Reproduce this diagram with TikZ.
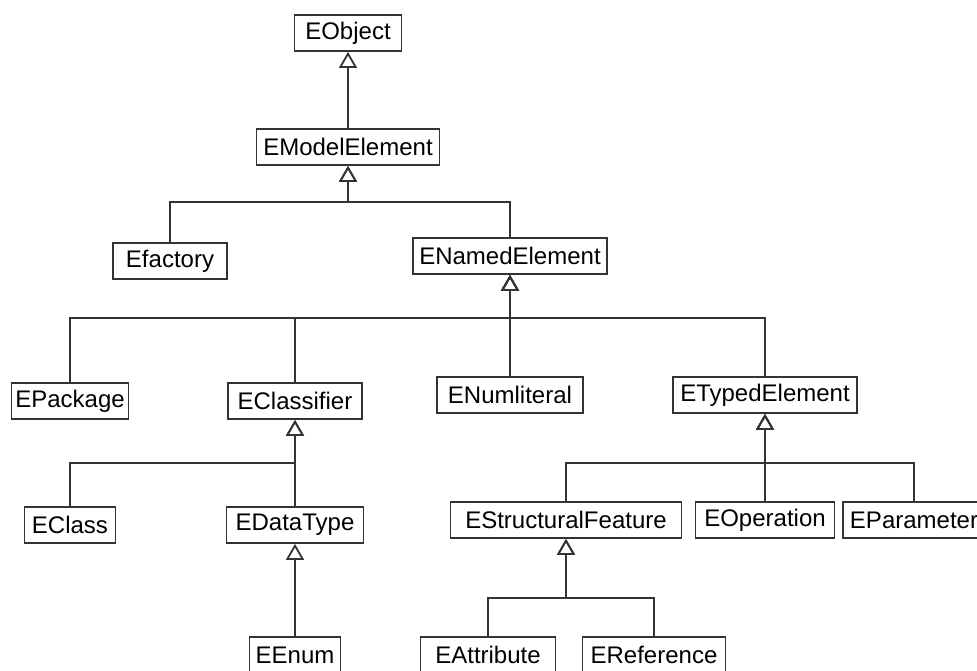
\documentclass[tikz,border=0pt]{standalone}
\usepackage{fontspec}
\setmainfont{Liberation Sans}
\usetikzlibrary{arrows.meta}

\begin{document}
\begin{tikzpicture}[x=1pt, y=-1pt,
  cls/.style={draw=black!80, line width=1.8pt, fill=white, minimum height=36pt,
              inner xsep=3pt, align=center, font=\fontsize{24}{26}\selectfont},
  inh/.style={-{Triangle[open, length=16pt, width=18pt]}, draw=black!80,
              line width=1.8pt}
]
  \useasboundingbox (0,0) rectangle (977,670);

  % Root and model element
  \node[cls, minimum width=107pt] (eobject) at (348,33) {EObject};
  \node[cls, minimum width=183pt] (emodel) at (348,147) {EModelElement};

  % Second level
  \node[cls, minimum width=114pt] (efactory) at (170,261) {Efactory};
  \node[cls, minimum width=194pt] (enamed) at (510,256) {ENamedElement};

  % Named elements
  \node[cls, minimum width=117pt] (epackage) at (70,401) {EPackage};
  \node[cls, minimum width=134pt] (eclassifier) at (295,401) {EClassifier};
  \node[cls, minimum width=146pt] (enumlit) at (510,395) {ENumliteral};
  \node[cls, minimum width=184pt] (etyped) at (765,395) {ETypedElement};

  % Classifiers and typed elements
  \node[cls, minimum width=91pt] (eclass) at (70,525) {EClass};
  \node[cls, minimum width=137pt] (edatatype) at (295,525) {EDataType};
  \node[cls, minimum width=231pt] (estruct) at (566,520) {EStructuralFeature};
  \node[cls, minimum width=139pt] (eoperation) at (765,520) {EOperation};
  \node[cls, minimum width=142pt] (eparam) at (914,520) {EParameter};

  % Leaves
  \node[cls, minimum width=91pt] (eenum) at (295,655) {EEnum};
  \node[cls, minimum width=135pt] (eattr) at (488,655) {EAttribute};
  \node[cls, minimum width=143pt] (eref) at (654,655) {EReference};

  % Bus points
  \coordinate (b1) at (348,202);
  \coordinate (b2) at (510,318);
  \coordinate (b3) at (295,463);
  \coordinate (b4) at (765,463);
  \coordinate (b5) at (566,598);

  % Inheritance
  \draw[inh] (emodel.north) -- (eobject.south);
  \foreach \c in {efactory, enamed}
    \draw[inh] (\c.north) |- (b1) -- (emodel.south);
  \foreach \c in {epackage, eclassifier, enumlit, etyped}
    \draw[inh] (\c.north) |- (b2) -- (enamed.south);
  \foreach \c in {eclass, edatatype}
    \draw[inh] (\c.north) |- (b3) -- (eclassifier.south);
  \foreach \c in {estruct, eoperation, eparam}
    \draw[inh] (\c.north) |- (b4) -- (etyped.south);
  \foreach \c in {eattr, eref}
    \draw[inh] (\c.north) |- (b5) -- (estruct.south);
  \draw[inh] (eenum.north) -- (edatatype.south);
\end{tikzpicture}
\end{document}
